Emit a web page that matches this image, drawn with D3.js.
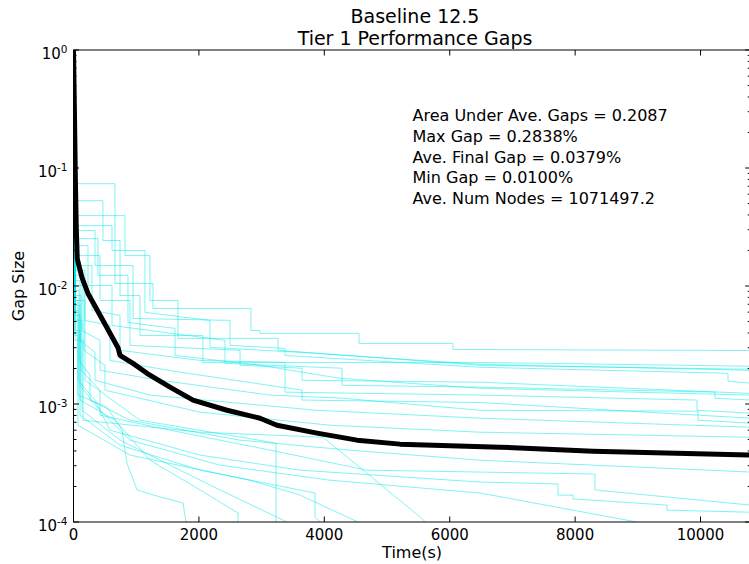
<!DOCTYPE html>
<html><head><meta charset="utf-8">
<script src="https://cdn.jsdelivr.net/npm/d3@7"></script>
<style>body{margin:0;background:#fff} svg text{font-family:"DejaVu Sans",sans-serif;fill:#000}</style>
</head><body><svg id="c" width="749" height="564"></svg>
<script>
// ---- text ----
const titleLines = ["Baseline 12.5", "Tier 1 Performance Gaps"];
const statLines = [
  "Area Under Ave. Gaps = 0.2087",
  "Max Gap = 0.2838%",
  "Ave. Final Gap = 0.0379%",
  "Min Gap = 0.0100%",
  "Ave. Num Nodes = 1071497.2"
];
const xLabel = "Time(s)";
const yLabel = "Gap Size";
const xTicks = [0, 2000, 4000, 6000, 8000, 10000];
const yTicks = [1e-4, 1e-3, 1e-2, 1e-1, 1];
const yTickExp = ["-4", "-3", "-2", "-1", "0"];

// ---- data: [time (s), gap] ----
const averageGap = [[0,1],[15,0.3],[30,0.08],[45,0.03],[60,0.017],[135,0.0118],[231,0.00865],[470,0.0051],[710,0.003],[742,0.00258],[949,0.00221],[1172,0.00182],[1539,0.00139],[1906,0.00108],[2448,0.000885],[2974,0.000758],[3245,0.00066],[3884,0.000566],[4522,0.000494],[5207,0.000457],[6802,0.000431],[8285,0.000398],[10800,0.00037]];

const run01 = [[0,1],[25,0.0736],[662,0.0736],[662,0.0105],[1268,0.0105],[1268,0.00645],[2831,0.00645],[2831,0.0042],[2975,0.0042],[2975,0.00397],[4553,0.00397],[4553,0.00326],[6053,0.00326],[6053,0.0029],[10800,0.002838]];
const run02 = [[0,1],[40,0.0528],[470,0.0528],[470,0.0243],[742,0.0243],[742,0.00831],[1061,0.00831],[1061,0.00381],[2065,0.00381],[2065,0.00225],[6483,0.00225],[10800,0.00209]];
const run03 = [[0,1],[56,0.0395],[821,0.0395],[821,0.0181],[1220,0.0181],[1220,0.00754],[1667,0.00754],[1667,0.0036],[3262,0.0036],[3262,0.00285],[6483,0.00213],[10800,0.00197]];
const run04 = [[0,1],[40,0.0295],[343,0.0295],[343,0.0149],[949,0.0149],[949,0.00531],[2496,0.00511],[2496,0.00314],[3373,0.00296],[3373,0.00258],[5208,0.00225],[6483,0.00205],[10438,0.00182],[10438,0.00156],[10800,0.0015]];
const run05 = [[0,1],[40,0.022],[231,0.022],[231,0.0101],[614,0.0101],[614,0.00463],[2416,0.00346],[2416,0.00221],[4282,0.00201],[4282,0.00144],[6483,0.00139],[10231,0.00126],[10231,0.00112],[10800,0.00108]];
const run06 = [[0,1],[40,0.0181],[423,0.0181],[423,0.00754],[901,0.00754],[901,0.00314],[2656,0.00285],[2656,0.00213],[3645,0.00201],[3645,0.00159],[6483,0.00153],[10800,0.00123]];
const run07 = [[0,1],[40,0.0149],[295,0.0149],[295,0.00621],[742,0.00563],[742,0.00285],[2018,0.00234],[3373,0.00225],[3373,0.00126],[6483,0.00119],[9944,0.00108],[9944,0.000885],[10800,0.000835]];
const run08 = [[0,1],[40,0.0135],[183,0.0135],[183,0.00511],[582,0.00463],[582,0.00234],[1699,0.00186],[3645,0.00131],[3645,0.00108],[6483,0.00103],[10800,0.000758]];
const run09 = [[0,1],[25,0.0123],[136,0.0123],[136,0.0042],[423,0.00346],[423,0.00193],[1380,0.00159],[3134,0.00119],[4282,0.00112],[6483,0.000885],[9960,0.000869],[9960,0.000729],[10800,0.000688]];
const run10 = [[0,1],[25,0.0111],[104,0.0111],[104,0.00346],[343,0.00274],[343,0.00159],[1220,0.00119],[3868,0.000885],[6483,0.000758],[10800,0.000636]];
const run11 = [[0,1],[25,0.0101],[167,0.0101],[167,0.00285],[502,0.00213],[502,0.00131],[2018,0.000852],[4091,0.000661],[6483,0.000577],[10800,0.000523]];
const run12 = [[0,1],[25,0.00916],[88,0.00916],[88,0.00234],[263,0.00175],[263,0.00108],[901,0.000729],[2656,0.000494],[4410,0.000406],[6483,0.000334],[10800,0.000265]];
const run13 = [[0,1],[25,0.00831],[120,0.00831],[120,0.00193],[423,0.00131],[423,0.000804],[1539,0.0006],[3294,0.000391],[4681,0.000275],[6483,0.000265],[8317,0.000255],[8317,0.000187],[10800,0.000139]];
const run14 = [[0,1],[25,0.00754],[72,0.00754],[72,0.00159],[343,0.00108],[582,0.0006],[2018,0.000369],[3613,0.000275],[6483,0.000218],[7727,0.00021],[7727,0.000169],[7966,0.000169],[7966,0.000157],[9466,0.000139],[9466,0.000126],[10800,0.000121]];
const run15 = [[0,1],[25,0.00684],[104,0.00684],[104,0.00144],[423,0.000885],[901,0.000494],[2337,0.000303],[4091,0.000226],[6483,0.000176],[8987,0.0001]];
const run16 = [[0,1],[25,0.00621],[72,0.00621],[72,0.00119],[534,0.000939],[774,0.0006],[853,0.000315],[1013,0.000187],[1380,0.000163],[1746,0.000145],[1794,0.0001]];
const run17 = [[0,1],[25,0.00563],[104,0.00563],[104,0.00108],[662,0.000729],[1220,0.000334],[2018,0.000187],[2624,0.000119],[2624,0.0001]];
const run18 = [[0,1],[25,0.00511],[136,0.00511],[136,0.000885],[742,0.000494],[1699,0.000275],[2337,0.000187],[3405,0.0001]];
const run19 = [[0,1],[25,0.00754],[183,0.00754],[183,0.00159],[1061,0.000729],[3230,0.000466],[3230,0.0001]];
const run20 = [[0,1],[25,0.0042],[104,0.0042],[104,0.000804],[742,0.000448],[2018,0.000275],[3852,0.000176],[3852,0.00011],[3932,0.0001]];
const run21 = [[0,1],[25,0.00381],[72,0.00381],[72,0.000661],[901,0.000369],[2815,0.000226],[3613,0.000169],[4537,0.0001]];
const run22 = [[0,1],[25,0.00346],[152,0.00346],[152,0.000729],[2018,0.000577],[3980,0.000523],[5530,0.00011],[5610,0.0001]];
const run23 = [[0,1],[40,0.0325],[614,0.0325],[614,0.02],[1140,0.02],[1140,0.00597],[2177,0.00511],[2177,0.00302],[3613,0.00274],[6483,0.00217],[10800,0.00193]];
const run24 = [[0,1],[40,0.0252],[391,0.0252],[391,0.0123],[869,0.0123],[869,0.00491],[1619,0.00437],[1619,0.00258],[2975,0.00213],[4250,0.00165],[6483,0.00136],[10800,0.00119]];
const runs = [run01,run02,run03,run04,run05,run06,run07,run08,run09,run10,run11,run12,run13,run14,run15,run16,run17,run18,run19,run20,run21,run22,run23,run24];

// ---- layout ----
const plot = {left: 73.5, right: 750.7, top: 50, bottom: 522};
const xDomainMax = 10800;
const svg = d3.select("#c");
const x = d3.scaleLinear().domain([0, xDomainMax]).range([plot.left, plot.right]);
const y = d3.scaleLog().domain([1e-4, 1]).range([plot.bottom, plot.top]);

svg.append("defs").append("clipPath").attr("id", "clip")
  .append("rect").attr("x", plot.left).attr("y", plot.top)
  .attr("width", plot.right - plot.left).attr("height", plot.bottom - plot.top);

const line = d3.line().x(d => x(d[0])).y(d => y(d[1]));
const gData = svg.append("g").attr("clip-path", "url(#clip)");
gData.selectAll("path.run").data(runs).join("path")
  .attr("class", "run").attr("d", line)
  .attr("fill", "none").attr("stroke", "#00eaea").attr("stroke-opacity", 0.5).attr("stroke-width", 1);
gData.append("path").attr("d", line(averageGap))
  .attr("fill", "none").attr("stroke", "#000").attr("stroke-width", 5)
  .attr("stroke-linejoin", "round");

// frame
svg.append("rect").attr("x", plot.left).attr("y", plot.top)
  .attr("width", plot.right - plot.left).attr("height", plot.bottom - plot.top)
  .attr("fill", "none").attr("stroke", "#000").attr("stroke-width", 1);

// ticks
const tk = svg.append("g").attr("stroke", "#000").attr("stroke-width", 1);
const majorLen = 5.5, minorLen = 3;
const minorY = y.ticks().filter(v => Math.abs(Math.log10(v) - Math.round(Math.log10(v))) > 1e-6);
xTicks.forEach(v => {
  tk.append("line").attr("x1", x(v)).attr("x2", x(v)).attr("y1", plot.bottom).attr("y2", plot.bottom - majorLen);
  tk.append("line").attr("x1", x(v)).attr("x2", x(v)).attr("y1", plot.top).attr("y2", plot.top + majorLen);
});
yTicks.forEach(v => {
  tk.append("line").attr("x1", plot.left).attr("x2", plot.left + majorLen).attr("y1", y(v)).attr("y2", y(v));
  tk.append("line").attr("x1", plot.right).attr("x2", plot.right - majorLen).attr("y1", y(v)).attr("y2", y(v));
});
minorY.forEach(v => {
  tk.append("line").attr("x1", plot.left).attr("x2", plot.left + minorLen).attr("y1", y(v)).attr("y2", y(v));
  tk.append("line").attr("x1", plot.right).attr("x2", plot.right - minorLen).attr("y1", y(v)).attr("y2", y(v));
});

// tick labels
svg.append("g").selectAll("text").data(xTicks).join("text")
  .attr("x", d => x(d)).attr("y", 539.5).attr("text-anchor", "middle")
  .attr("font-size", 15).text(d => d);
const yl = svg.append("g").selectAll("text").data(yTicks).join("text")
  .attr("x", 67.5).attr("y", d => y(d) + 8.5).attr("text-anchor", "end").attr("font-size", 15);
yl.append("tspan").text("10");
yl.append("tspan").attr("dy", -6).attr("font-size", 10.5).text((d, i) => yTickExp[i]);

// axis labels
svg.append("text").attr("x", (plot.left + plot.right) / 2).attr("y", 558)
  .attr("text-anchor", "middle").attr("font-size", 16).text(xLabel);
svg.append("text").attr("transform", `translate(24,${(plot.top + plot.bottom) / 2}) rotate(-90)`)
  .attr("text-anchor", "middle").attr("font-size", 16).text(yLabel);

// title
svg.append("g").selectAll("text").data(titleLines).join("text")
  .attr("x", 415).attr("y", (d, i) => 22.5 + i * 22).attr("text-anchor", "middle")
  .attr("font-size", 19).text(d => d);

// stats
svg.append("g").selectAll("text").data(statLines).join("text")
  .attr("x", 412.5).attr("y", (d, i) => 121 + i * 20.75)
  .attr("font-size", 16).text(d => d);
</script>
</body></html>
